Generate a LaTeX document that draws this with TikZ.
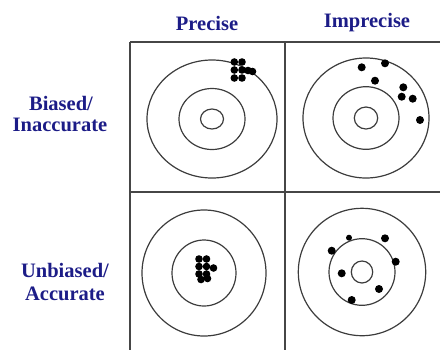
\documentclass[tikz,border=0pt]{standalone}
\usepackage{fontspec}
\setmainfont{Liberation Serif}
\definecolor{labblue}{RGB}{28,28,135}
\definecolor{gridgray}{RGB}{70,70,70}
\definecolor{ringgray}{RGB}{60,60,60}
\tikzset{
  lab/.style={font=\fontsize{20.5bp}{24bp}\selectfont\bfseries, text=labblue, inner sep=0pt, align=center},
  gridline/.style={draw=gridgray, line width=1.5bp},
  ring/.style={draw=ringgray, line width=1.2bp},
  shot/.style={fill=black}
}
\begin{document}
\begin{tikzpicture}[x=1bp,y=-1bp]
\useasboundingbox (0,0) rectangle (440,350);
% grid
\draw[gridline] (130,42) -- (440,42);
\draw[gridline] (130,192) -- (440,192);
\draw[gridline] (130,42) -- (130,350);
\draw[gridline] (285,42) -- (285,350);
% labels
\node[lab] (precise) at (207,23) {Precise};
\node[lab] (imprecise) at (367,23) {Imprecise};
\node[lab] (biased) at (61,103) {Biased/};
\node[lab] (inacc) at (60,125) {Inaccurate};
\node[lab] (unbiased) at (65,270) {Unbiased/};
\node[lab] (acc) at (65,294) {Accurate};
% target 1
\draw[ring] (212,119) ellipse [x radius=65bp, y radius=59bp];
\draw[ring] (212,119) ellipse [x radius=33bp, y radius=30.5bp];
\draw[ring] (212,119) ellipse [x radius=11.5bp, y radius=10bp];
\foreach \p in {(234.3,62),(242,62),(234.3,70),(242,70),(234.3,78),(242,78),(248,70.5),(252.5,71.5)}
  \fill[shot] \p circle[radius=3.8bp];
% target 2
\draw[ring] (366,118) ellipse [x radius=63bp, y radius=60bp];
\draw[ring] (366,118) ellipse [x radius=33bp, y radius=31.3bp];
\draw[ring] (366,118) ellipse [x radius=11.7bp, y radius=11bp];
\foreach \p in {(361.7,67.3),(385,63.3),(375,80.7),(403.3,87.3),(401.7,96.7),(412.7,98.7),(420,120)}
  \fill[shot] \p circle[radius=4bp];
% target 3
\draw[ring] (204,273) ellipse [x radius=62bp, y radius=63bp];
\draw[ring] (204,273) ellipse [x radius=32bp, y radius=33bp];
\foreach \p in {(199,259),(206.5,259),(199,266.5),(206.5,266.5),(199,274),(206.5,274),(213.5,268),(201,279.5),(207.5,278.5)}
  \fill[shot] \p circle[radius=3.8bp];
% target 4
\draw[ring] (362,272) ellipse [x radius=63.7bp, y radius=63.7bp];
\draw[ring] (362,272) ellipse [x radius=33bp, y radius=33.3bp];
\draw[ring] (362,272) ellipse [x radius=10.7bp, y radius=11bp];
\fill[shot] (349,237.7) circle[radius=3bp];
\foreach \p in {(385,238.3),(331.7,250.7),(395.7,261.7),(341.7,273.3),(379,289),(351.7,300)}
  \fill[shot] \p circle[radius=4bp];
\end{tikzpicture}
\end{document}
